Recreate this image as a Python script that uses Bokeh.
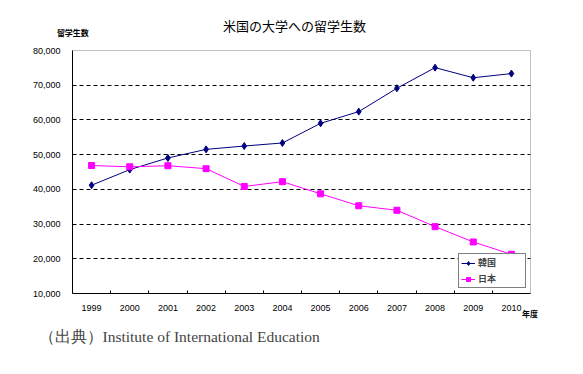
from bokeh.plotting import figure
from bokeh.models import (FixedTicker, NumeralTickFormatter, Legend, LegendItem, Range1d, Title, LinearAxis)
from bokeh.embed import file_html
from bokeh.resources import INLINE

title_text = "米国の大学への留学生数"
years = ["1999", "2000", "2001", "2002", "2003", "2004", "2005", "2006", "2007", "2008", "2009", "2010"]
korea = [41191, 45685, 49046, 51519, 52484, 53358, 59022, 62392, 69124, 75065, 72153, 73351]
japan = [46872, 46497, 46810, 45960, 40835, 42215, 38712, 35282, 33974, 29264, 24842, 21290]
y_ticks = [10000, 20000, 30000, 40000, 50000, 60000, 70000, 80000]

xs = list(range(len(years)))

p = figure(width=575, height=366, output_backend="svg", toolbar_location=None,
           x_range=Range1d(-0.5, len(years) - 0.5), y_range=Range1d(10000, 80000),
           min_border_left=72, min_border_top=50, min_border_right=45, min_border_bottom=73)
p.background_fill_color = "white"
p.border_fill_color = "white"
p.outline_line_color = "#808080"
p.outline_line_dash = "1 1"
p.outline_line_width = 1

# main x axis
xa = p.below[0]
xa.ticker = FixedTicker(ticks=xs, minor_ticks=[i + 0.5 for i in xs[:-1]])
xa.major_label_overrides = {i: y for i, y in enumerate(years)}
xa.major_tick_line_color = None
xa.minor_tick_in = 3
xa.minor_tick_out = 0
xa.minor_tick_line_color = "black"
xa.minor_tick_line_width = 1
xa.axis_line_color = "black"
xa.major_label_standoff = 5
xa.major_label_text_font = "Liberation Sans"
xa.major_label_text_font_size = "9px"
xa.major_label_text_color = "black"

ya = p.left[0]
ya.ticker = FixedTicker(ticks=y_ticks)
ya.formatter = NumeralTickFormatter(format="0,0")
ya.major_tick_line_color = None
ya.minor_tick_line_color = None
ya.axis_line_color = "black"
ya.major_label_standoff = 6
ya.major_label_text_font = "Liberation Sans"
ya.major_label_text_font_size = "9px"
ya.major_label_text_color = "black"

# y-axis caption as a top axis label
top = LinearAxis(ticker=FixedTicker(ticks=[-0.49]), major_label_overrides={-0.49: "留学生数"},
                 axis_line_color=None, major_tick_line_color=None, minor_tick_line_color=None,
                 major_label_standoff=7, major_label_text_align="right",
                 major_label_text_font="Noto Sans CJK JP", major_label_text_font_size="8px",
                 major_label_text_font_style="bold", major_label_text_color="black")
p.add_layout(top, "above")

# chart title as a second top axis label, centred over page x=294
tx = -0.5 + (294 - 72) / (458 / 12)
title_axis = LinearAxis(ticker=FixedTicker(ticks=[tx]), major_label_overrides={tx: title_text},
                        axis_line_color=None, major_tick_line_color=None, minor_tick_line_color=None,
                        major_label_standoff=-17, major_label_text_align="center",
                        major_label_text_font="Noto Sans CJK JP", major_label_text_font_size="13px",
                        major_label_text_font_style="normal", major_label_text_color="black")
p.add_layout(title_axis, "above")

# "年度" as a second bottom axis label at the right end
unit = LinearAxis(ticker=FixedTicker(ticks=[11.49]), major_label_overrides={11.49: "年度"},
                  axis_line_color=None, major_tick_line_color=None, minor_tick_line_color=None,
                  major_label_standoff=-12, major_label_text_align="left",
                  major_label_text_font="Noto Sans CJK JP", major_label_text_font_size="8px",
                  major_label_text_font_style="bold", major_label_text_color="black")
p.add_layout(unit, "below")

p.xgrid.grid_line_color = None
p.ygrid.ticker = FixedTicker(ticks=y_ticks[1:-1])
p.ygrid.grid_line_color = "black"
p.ygrid.grid_line_dash = "4 3"
p.ygrid.grid_line_width = 1

# series
kl = p.line(xs, korea, line_color="#000080", line_width=1)
km = p.scatter(xs, korea, marker="diamond", size=7, fill_color="#000080", line_color="#000080")
jl = p.line(xs, japan, line_color="#FF00FF", line_width=1)
jm = p.scatter(xs, japan, marker="square", size=6, fill_color="#FF00FF", line_color="#FF00FF")

legend = Legend(items=[LegendItem(label="韓国", renderers=[kl, km]),
                       LegendItem(label="日本", renderers=[jl, jm])],
                location=(386, 5), padding=2, spacing=3, margin=0,
                glyph_width=14, glyph_height=10, label_height=10, label_width=45,
                label_standoff=3,
                label_text_font="Noto Sans CJK JP", label_text_font_size="9px",
                label_text_font_style="bold", label_text_line_height=1.0,
                border_line_color="black", border_line_width=1,
                background_fill_color="white", background_fill_alpha=1)
p.add_layout(legend, "center")

src = Title(text="（出典）Institute of International Education", align="left",
            text_font="Liberation Serif", text_font_size="15.5px", text_font_style="normal",
            offset=-34, standoff=8)
p.add_layout(src, "below")

open("out.html", "w").write(file_html(p, INLINE))
